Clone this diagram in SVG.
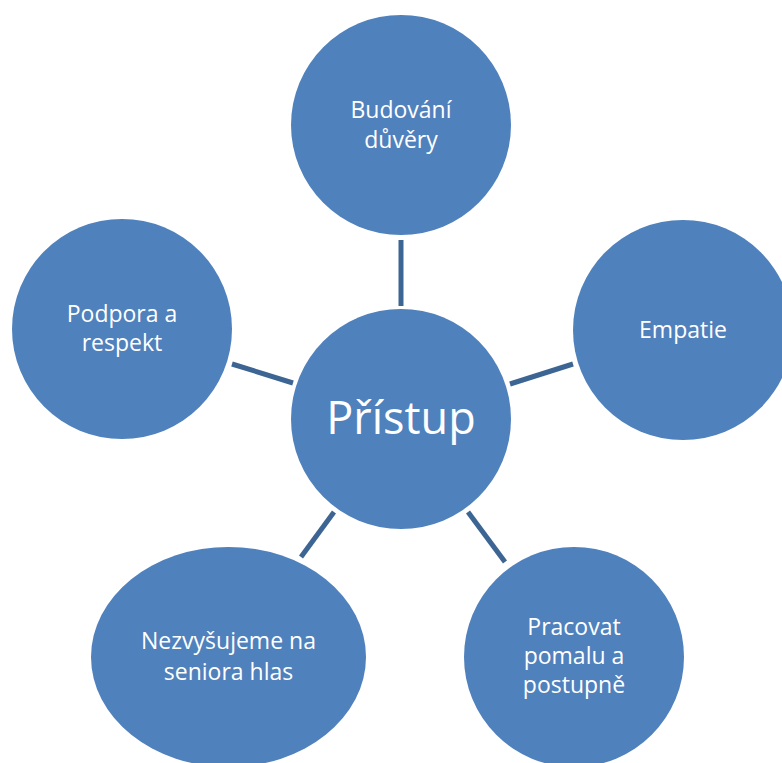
<svg xmlns="http://www.w3.org/2000/svg" width="782" height="763" viewBox="0 0 782 763">
<style>
.n{fill:#4F81BD}
.t{fill:#FFFFFF;font-family:"Open Sans","Noto Sans",sans-serif;font-size:23px;text-anchor:middle}
.c{stroke:#3D6594;stroke-width:5;fill:none}
</style>
<rect width="782" height="763" fill="#FFFFFF"/>
<g id="connectors">
<line class="c" x1="401" y1="240" x2="401" y2="306"/>
<line class="c" x1="510" y1="384" x2="573" y2="364"/>
<line class="c" x1="232" y1="364" x2="293" y2="383"/>
<line class="c" x1="334" y1="512" x2="301" y2="557"/>
<line class="c" x1="468" y1="512" x2="505" y2="562"/>
</g>
<g id="center">
<circle class="n" cx="401" cy="419" r="110"/>
<text class="t" x="401" y="434" style="font-size:45px">Přístup</text>
</g>
<g id="budovani">
<circle class="n" cx="401" cy="125" r="110"/>
<text class="t" x="401" y="118">Budování</text>
<text class="t" x="401" y="148">důvěry</text>
</g>
<g id="empatie">
<circle class="n" cx="683" cy="330" r="110"/>
<text class="t" x="683" y="338">Empatie</text>
</g>
<g id="podpora">
<circle class="n" cx="122" cy="329" r="110"/>
<text class="t" x="122" y="322">Podpora a</text>
<text class="t" x="122" y="351">respekt</text>
</g>
<g id="nezvysujeme">
<ellipse class="n" cx="228.5" cy="657" rx="137.5" ry="110"/>
<text class="t" x="228.5" y="649">Nezvyšujeme na</text>
<text class="t" x="228.5" y="680">seniora hlas</text>
</g>
<g id="pracovat">
<circle class="n" cx="574" cy="657" r="110"/>
<text class="t" x="574" y="635">Pracovat</text>
<text class="t" x="574" y="664">pomalu a</text>
<text class="t" x="574" y="693">postupně</text>
</g>
</svg>
